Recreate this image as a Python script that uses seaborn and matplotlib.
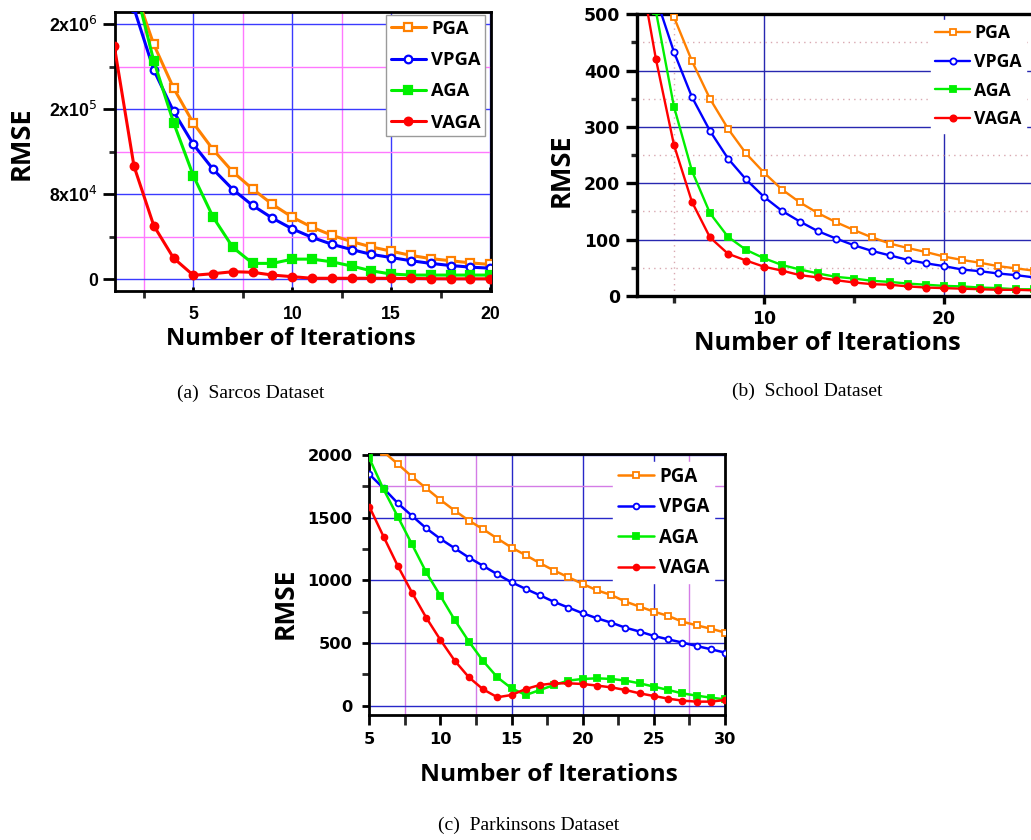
import numpy as np
import pandas as pd
import matplotlib
matplotlib.use("Agg")
import matplotlib.pyplot as plt
import seaborn as sns
from matplotlib.ticker import FixedLocator, FixedFormatter

sns.set_theme(style="white")
plt.rcParams['font.family'] = ['DejaVu Sans']
plt.rcParams['mathtext.fontset'] = 'dejavusans'
plt.rcParams['text.color'] = 'black'
plt.rcParams['axes.labelcolor'] = 'black'

# ---------------- data ----------------
methods = ["PGA", "VPGA", "AGA", "VAGA"]

# (a) Sarcos
sarcos_x_pga = list(range(2, 21))
sarcos_pga = [275000, 221000, 180000, 147000, 122000, 101000, 85000, 70500, 58500, 49000,
              41500, 35500, 30500, 26500, 22500, 19500, 17500, 15500, 14000]
sarcos_x_vpga = list(range(2, 21))
sarcos_vpga = [255000, 197000, 158000, 127000, 103500, 84500, 69500, 57500, 47500, 39500,
               33000, 28000, 23500, 20500, 17500, 15000, 13000, 11500, 10500]
sarcos_x_aga = list(range(2, 21))
sarcos_aga = [280000, 205500, 147500, 97500, 58500, 30000, 15000, 15000, 19000, 19000,
              16500, 12500, 8000, 5000, 4000, 4000, 4000, 4000, 4000]
sarcos_x_vaga = list(range(1, 21))
sarcos_vaga = [220000, 106500, 50500, 20000, 3800, 5300, 7200, 6600, 4000, 2500,
               1000, 1000, 1000, 1000, 900, 800, 600, 500, 500, 500]
sarcos_yticks = [0, 80000, 160000, 240000]
sarcos_yticklabels = ["0", r"8x10$^{4}$", r"2x10$^{5}$", r"2x10$^{6}$"]
sarcos_xticks = [5, 10, 15, 20]

# (b) School
school_x_pga = list(range(4, 26))
school_pga = [620, 495, 417, 350, 297, 253, 219, 189, 166, 147, 131, 117, 104, 93, 85, 78,
              70, 64, 59, 53, 49, 45]
school_x_vpga = list(range(4, 26))
school_vpga = [530, 433, 353, 293, 244, 207, 176, 151, 132, 115, 102, 90, 80, 72, 64, 58,
               53, 47, 44, 40, 37, 33]
school_x_aga = list(range(4, 26))
school_aga = [505, 336, 222, 147, 105, 82, 67, 55, 47, 40, 34, 31, 27, 25, 22, 20,
              18, 17, 15, 14, 12, 12]
school_x_vaga = list(range(3, 26))
school_vaga = [600, 420, 268, 167, 104, 75, 63, 52, 45, 37, 33, 28, 24, 21, 20, 17,
               15, 14, 13, 12, 11, 11, 10]
school_yticks = [0, 100, 200, 300, 400, 500]
school_xticks = [10, 20]

# (c) Parkinsons
park_x = list(range(5, 31))
park_pga = [2125, 2025, 1928, 1827, 1734, 1641, 1556, 1476, 1407, 1333, 1261, 1200, 1136,
            1077, 1024, 971, 920, 883, 830, 790, 750, 716, 670, 641, 614, 583]
park_vpga = [1846, 1734, 1615, 1514, 1415, 1330, 1256, 1181, 1115, 1048, 984, 931, 880,
             827, 782, 737, 697, 662, 622, 591, 556, 529, 503, 476, 450, 423]
park_aga = [1974, 1726, 1508, 1287, 1064, 875, 684, 511, 356, 226, 138, 85, 125,
            165, 200, 213, 218, 213, 200, 178, 152, 125, 98, 80, 64, 50]
park_vaga = [1588, 1349, 1115, 902, 702, 524, 359, 226, 130, 67, 85, 133, 165,
             178, 178, 173, 160, 146, 125, 98, 77, 56, 40, 32, 32, 45]
park_yticks = [0, 500, 1000, 1500, 2000]
park_xticks = [5, 10, 15, 20, 25, 30]

captions = ["(a)  Sarcos Dataset", "(b)  School Dataset", "(c)  Parkinsons Dataset"]

# ---------------- styling ----------------
colors = {"PGA": "#FF8000", "VPGA": "#0000FF", "AGA": "#00F000", "VAGA": "#FF0000"}
markers = {"PGA": "s", "VPGA": "o", "AGA": "s", "VAGA": "o"}
filled = {"PGA": False, "VPGA": False, "AGA": True, "VAGA": True}

W, H = 1031, 840
fig = plt.figure(figsize=(W / 100, H / 100), dpi=100)


def px_axes(left, top, right, bottom):
    return fig.add_axes([left / W, 1 - bottom / H, (right - left) / W, (bottom - top) / H])


def draw(ax, xs, ys, lw, ms, mew):
    for m, x, y in zip(methods, xs, ys):
        df = pd.DataFrame({"x": x, "y": y})
        sns.lineplot(data=df, x="x", y="y", ax=ax, color=colors[m], marker=markers[m],
                     markersize=ms, markeredgewidth=mew, markeredgecolor=colors[m],
                     markerfacecolor=colors[m] if filled[m] else "white",
                     linewidth=lw, label=m, zorder=3)


# ---------- (a) ----------
axA = px_axes(115, 12.3, 490.7, 290.7)
draw(axA, [sarcos_x_pga, sarcos_x_vpga, sarcos_x_aga, sarcos_x_vaga],
     [sarcos_pga, sarcos_vpga, sarcos_aga, sarcos_vaga], lw=2.2, ms=5.5, mew=1.6)
axA.set_xlim(1.04, 20.03)
axA.set_ylim(-10700, 251300)
axA.xaxis.set_major_locator(FixedLocator(sarcos_xticks))
axA.xaxis.set_minor_locator(FixedLocator([2.5, 7.5, 12.5, 17.5]))
axA.yaxis.set_major_locator(FixedLocator(sarcos_yticks))
axA.yaxis.set_major_formatter(FixedFormatter(sarcos_yticklabels))
axA.yaxis.set_minor_locator(FixedLocator([40000, 120000, 200000]))
axA.grid(which="major", color="#3A3AFF", linewidth=1.0)
axA.grid(which="minor", color="#FF78FF", linewidth=1.0)
for s in axA.spines.values():
    s.set_color("black"); s.set_linewidth(2.0)
axA.tick_params(axis="y", which="major", direction="out", length=8.5, width=2, pad=4,
                left=True, labelsize=12.7, colors="black")
axA.tick_params(axis="y", which="minor", direction="out", length=4, width=2, left=True)
axA.tick_params(axis="x", which="major", direction="in", length=3, width=2, pad=11,
                bottom=True, labelsize=12.7, colors="black")
axA.tick_params(axis="x", which="minor", direction="out", length=5, width=2, bottom=True)
for lab in axA.get_xticklabels() + axA.get_yticklabels():
    lab.set_fontfamily("Liberation Sans"); lab.set_fontweight("bold")

# ---------- (b) ----------
axB = px_axes(636.7, 14.3, 1031, 296)
draw(axB, [school_x_pga, school_x_vpga, school_x_aga, school_x_vaga],
     [school_pga, school_vpga, school_aga, school_vaga], lw=1.7, ms=4.5, mew=1.3)
axB.set_xlim(2.93, 24.83)
axB.set_ylim(0, 500)
axB.xaxis.set_major_locator(FixedLocator(school_xticks))
axB.xaxis.set_minor_locator(FixedLocator([5, 15]))
axB.yaxis.set_major_locator(FixedLocator(school_yticks))
axB.yaxis.set_minor_locator(FixedLocator([50, 150, 250, 350, 450]))
axB.grid(which="major", color="#2828B0", linewidth=1.0)
axB.grid(which="minor", color="#D9A8B0", linewidth=1.0, linestyle=(0, (1, 3)))
for s in axB.spines.values():
    s.set_color("black"); s.set_linewidth(2.4)
axB.spines["right"].set_visible(False)
axB.tick_params(axis="y", which="major", direction="out", length=8, width=2.4, pad=4,
                left=True, labelsize=12.4, colors="black")
axB.tick_params(axis="y", which="minor", direction="out", length=4, width=2.4, left=True)
axB.tick_params(axis="x", which="major", direction="out", length=6, width=2.4, pad=4,
                bottom=True, labelsize=12.4, colors="black")
axB.tick_params(axis="x", which="minor", direction="out", length=5, width=2.4, bottom=True)
for lab in axB.get_xticklabels() + axB.get_yticklabels():
    lab.set_fontfamily("DejaVu Sans"); lab.set_fontweight("bold")

# ---------- (c) ----------
axC = px_axes(369.3, 454.3, 725, 715.3)
draw(axC, [park_x] * 4, [park_pga, park_vpga, park_aga, park_vaga], lw=1.8, ms=4.2, mew=1.3)
axC.set_xlim(5, 30)
axC.set_ylim(-77, 2005)
axC.xaxis.set_major_locator(FixedLocator(park_xticks))
axC.xaxis.set_minor_locator(FixedLocator([7.5, 12.5, 17.5, 22.5, 27.5]))
axC.yaxis.set_major_locator(FixedLocator(park_yticks))
axC.yaxis.set_minor_locator(FixedLocator([250, 750, 1250, 1750]))
axC.grid(which="major", color="#2828C8", linewidth=1.0)
axC.grid(which="minor", color="#D47CE6", linewidth=1.0)
for s in axC.spines.values():
    s.set_color("black"); s.set_linewidth(2.0)
axC.tick_params(axis="y", which="major", direction="out", length=5, width=2, pad=7,
                left=True, labelsize=11.7, colors="black")
axC.tick_params(axis="y", which="minor", direction="out", length=5, width=2, left=True)
axC.tick_params(axis="x", which="major", direction="out", length=7, width=2, pad=5,
                bottom=True, labelsize=11.7, colors="black")
axC.tick_params(axis="x", which="minor", direction="out", length=7, width=2, bottom=True)
for lab in axC.get_xticklabels() + axC.get_yticklabels():
    lab.set_fontfamily("DejaVu Sans"); lab.set_fontweight("bold")

# hide a few grid lines that are absent in the original panels
axA.xaxis.get_minor_ticks()[3].gridline.set_visible(False)
axB.xaxis.get_minor_ticks()[1].gridline.set_visible(False)
for i in (0, 1, 5):
    axC.xaxis.get_major_ticks()[i].gridline.set_visible(False)
for i in (2, 3):
    axC.xaxis.get_minor_ticks()[i].gridline.set_visible(False)
for i in (0, 1, 2):
    axC.yaxis.get_minor_ticks()[i].gridline.set_visible(False)

# ---------- labels ----------
lab_font = dict(family="Open Sans", weight="bold", color="black")
specs = [
    (axA, 17.0, 19.5, (0.468, -0.175), (-0.248, 0.531)),
    (axB, 18.2, 19.5, (0.483, -0.167), (-0.190, 0.445)),
    (axC, 17.6, 19.0, (0.505, -0.229), (-0.236, 0.430)),
]
for ax, xs_, ys_, xl, yl in specs:
    ax.set_xlabel("Number of Iterations", fontsize=xs_, **lab_font)
    ax.set_ylabel("RMSE", fontsize=ys_, **lab_font)
    ax.xaxis.set_label_coords(*xl)
    ax.yaxis.set_label_coords(*yl)
    ax.xaxis.label.set_va("center")
    ax.yaxis.label.set_va("center")
    ax.set_facecolor("white")

# ---------- legends ----------
leg_specs = [
    (axA, 13.2, (386 / W, 1 - 15 / H), True, 0.73),
    (axB, 12.7, (931 / W, 1 - 20 / H), False, 0.60),
    (axC, 13.5, (613 / W, 1 - 462 / H), False, 0.56),
]
for ax, fs, anchor, frame, ls in leg_specs:
    leg = ax.legend(loc="upper left", bbox_to_anchor=anchor, bbox_transform=fig.transFigure,
                    prop=dict(family="Open Sans", weight="bold", size=fs),
                    handlelength=1.95, handletextpad=0.25, labelspacing=ls,
                    borderpad=0.25, borderaxespad=0, frameon=True, fancybox=False,
                    framealpha=1.0, labelcolor="black")
    leg.get_frame().set_facecolor("white")
    leg.get_frame().set_edgecolor("#9A9A9A" if frame else "white")
    leg.get_frame().set_linewidth(1.0)
    leg.set_zorder(5)

# ---------- captions ----------
for txt, (cx, cy) in zip(captions, [(250.5, 393), (807, 391.7), (528.5, 825)]):
    fig.text(cx / W, 1 - cy / H, txt, ha="center", va="center",
             fontsize=14, family="Liberation Serif", color="black")

fig.savefig("out.png", dpi=100, facecolor="white")
